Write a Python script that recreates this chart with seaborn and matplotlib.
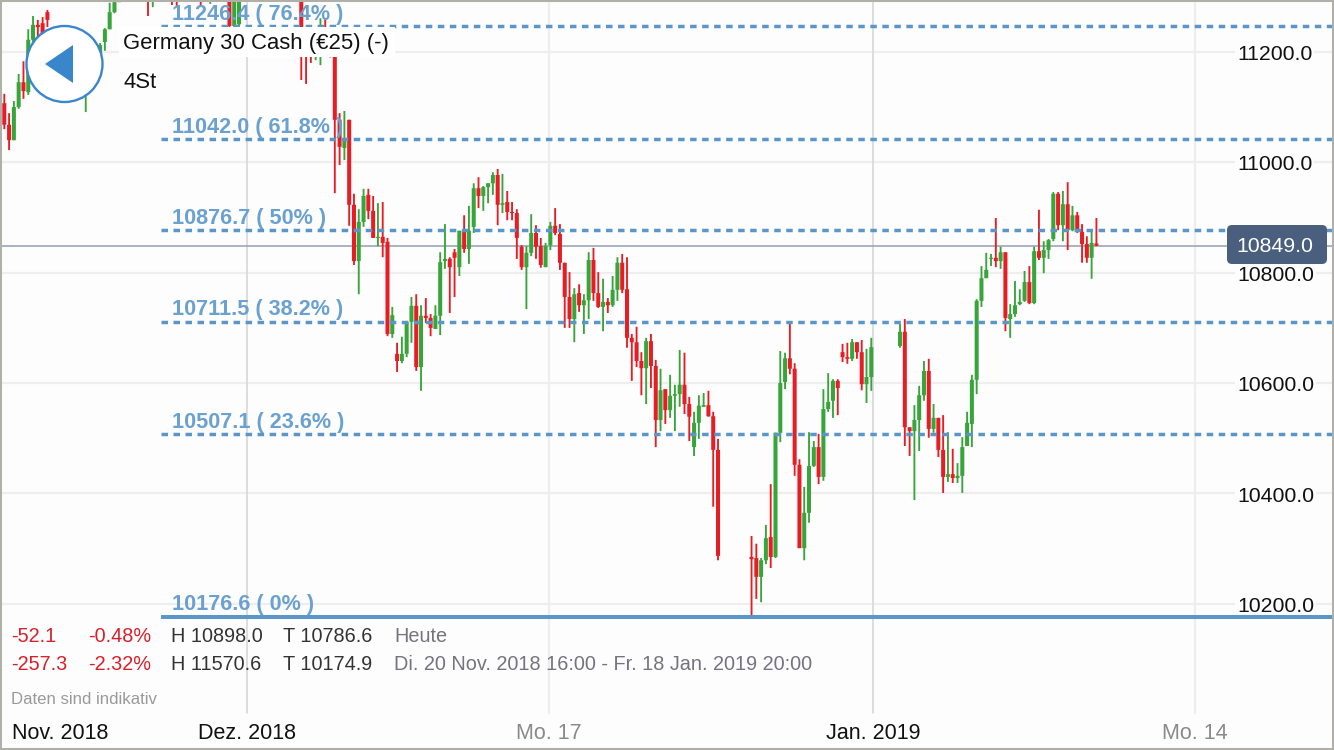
import numpy as np
import pandas as pd
import seaborn as sns
import matplotlib
matplotlib.use("Agg")
import matplotlib.pyplot as plt
from matplotlib.patches import Rectangle, Circle, Polygon, FancyBboxPatch
from matplotlib.transforms import ScaledTranslation

_ = np.nan
opens = [
 11107,11068,11040,11100,11145,11127,11222,11249,11252,11272,
 11222,11194,11212,11185,11158,11185,11158,11131,11167,11171,
 11189,11218,11241,11272,11290,11330,11380,11360,11420,11400,
 11370,11320,11350,11400,11385,11345,11320,11305,11350,11400,
 11370,11340,11310,11315,11345,11420,11500,11420,11247,11250,
 11320,11300,11360,11330,11390,11350,11320,11360,11330,11375,
 11345,11325,11355,11236,11231,11203,11212,11240,11222,11222,
 11077,11026,11077,10923,10821,10892,10941,10912,10863,10865,
 10856,10689,10653,10640,10653,10711,10740,10629,10722,10718,
 10698,10722,10821,10825,10837,10810,10876,10843,10883,10953,
 10939,10955,10962,10977,10923,10928,10910,10908,10847,10810,
 10836,10872,10848,10810,10850,10885,10870,10818,10756,10716,
 10763,10741,10750,10823,10763,10738,10747,10741,10769,10818,
 10770,10682,10674,10640,10627,10676,10631,10533,10589,10551,
 10577,10580,10597,10562,10484,10528,10557,10560,10540,10479,
 _,_,_,_,_,_,10285,10283,10249,10279,
 10321,10285,10510,10602,10645,10626,10452,10301,10365,10450,
 10484,10430,10553,10568,10604,10656,10647,10644,10674,10656,
 10598,10611,_,_,_,_,_,10667,10693,10520,
 10513,10533,10578,10622,10517,10537,10479,10430,10435,10428,
 10432,10486,10526,10606,10749,10790,10825,10827,10821,10837,
 10716,10725,10743,10749,10783,10745,10839,10827,10841,10861,
 10943,10886,10924,10877,10904,10874,10852,10827,10853]
highs = [
 11124,11089,11111,11160,11183,11241,11265,11258,11263,11276,
 11231,11222,11218,11212,11203,11194,11185,11185,11212,11203,
 11216,11243,11289,11312,11350,11395,11410,11430,11445,11425,
 11390,11365,11420,11430,11410,11365,11340,11370,11415,11430,
 11395,11360,11365,11360,11440,11540,11570.6,11440,11350,11345,
 11340,11375,11385,11410,11410,11370,11380,11385,11395,11395,
 11365,11375,11375,11240,11236,11231,11261,11261,11240,11240,
 11089,11093,11077,10943,10915,10952,10952,10939,10926,10928,
 10863,10738,10673,10684,10712,10756,10761,10741,10754,10725,
 10741,10837,10888,10828,10843,10876,10904,10921,10962,10973,
 10957,10962,10982,10988,10979,10948,10928,10915,10850,10848,
 10906,10886,10863,10854,10892,10917,10888,10818,10801,10772,
 10779,10761,10837,10845,10801,10789,10754,10794,10828,10834,
 10828,10689,10702,10656,10682,10689,10642,10626,10589,10615,
 10597,10660,10655,10575,10548,10578,10582,10586,10548,10499,
 _,_,_,_,_,_,10323,10309,10283,10343,
 10417,10510,10658,10655,10707,10636,10462,10412,10511,10495,
 10508,10589,10618,10607,10607,10671,10673,10680,10674,10678,
 10662,10682,_,_,_,_,_,10707,10716,10520,
 10560,10595,10640,10644,10562,10537,10542,10511,10481,10455,
 10502,10548,10615,10752,10812,10836,10834,10899,10847,10837,
 10743,10785,10770,10803,10812,10847,10914,10857,10861,10946,
 10946,10948,10964,10921,10910,10888,10866,10879,10899]
lows = [
 11060,11022,11040,11097,11115,11122,11212,11218,11227,11245,
 11185,11176,11167,11149,11140,11140,11131,11091,11140,11153,
 11185,11202,11241,11270,11295,11320,11340,11350,11385,11330,
 11265,11281,11340,11360,11320,11285,11283,11295,11335,11355,
 11320,11283,11295,11287,11330,11405,11400,11243,11245,11248,
 11292,11295,11315,11320,11335,11300,11305,11310,11320,11325,
 11300,11300,11149,11142,11180,11185,11176,11212,11190,10944,
 10995,11004,10885,10814,10761,10883,10897,10863,10848,10828,
 10685,10682,10620,10636,10647,10673,10622,10586,10709,10685,
 10698,10687,10807,10727,10756,10794,10836,10816,10872,10917,
 10912,10926,10941,10886,10908,10895,10895,10825,10805,10734,
 10830,10825,10809,10810,10841,10868,10805,10700,10700,10674,
 10729,10689,10716,10749,10736,10694,10727,10738,10749,10763,
 10664,10604,10629,10578,10562,10591,10484,10513,10526,10537,
 10513,10557,10544,10495,10468,10499,10557,10539,10376,10279,
 _,_,_,_,_,_,10175,10209,10203,10272,
 10265,10283,10493,10589,10616,10432,10301,10279,10347,10448,
 10417,10423,10548,10537,10542,10638,10635,10640,10644,10587,
 10564,10586,_,_,_,_,_,10664,10486,10468,
 10388,10477,10568,10501,10510,10466,10401,10421,10419,10419,
 10401,10486,10484,10580,10738,10790,10812,10810,10807,10694,
 10682,10720,10741,10747,10743,10743,10823,10799,10825,10857,
 10877,10857,10841,10875,10872,10818,10818,10789,10848]
closes = [
 11068,11040,11100,11145,11129,11222,11249,11245,11234,11258,
 11194,11212,11185,11158,11185,11149,11140,11167,11194,11200,
 11212,11241,11272,11290,11330,11380,11360,11420,11400,11370,
 11320,11350,11400,11385,11345,11320,11305,11350,11400,11370,
 11340,11310,11345,11345,11420,11500,11420,11247,11330,11320,
 11300,11360,11330,11390,11350,11320,11360,11330,11375,11345,
 11325,11355,11222,11212,11212,11222,11240,11222,11203,11077,
 11028,11044,10923,10821,10892,10939,10912,10863,10865,10854,
 10689,10723,10640,10653,10711,10740,10629,10722,10718,10700,
 10722,10819,10825,10810,10827,10876,10843,10876,10953,10939,
 10955,10962,10977,10923,10926,10910,10908,10863,10810,10836,
 10872,10847,10814,10848,10885,10872,10818,10756,10716,10761,
 10741,10750,10823,10763,10738,10747,10741,10769,10818,10769,
 10682,10674,10640,10627,10676,10631,10533,10587,10551,10577,
 10580,10597,10562,10539,10528,10559,10560,10540,10479,10287,
 _,_,_,_,_,_,10281,10249,10279,10319,
 10285,10510,10600,10645,10626,10452,10301,10365,10450,10484,
 10430,10553,10566,10604,10591,10647,10644,10674,10656,10598,
 10611,10665,_,_,_,_,_,10693,10520,10513,
 10533,10578,10622,10517,10537,10479,10430,10435,10428,10432,
 10484,10528,10606,10749,10790,10805,10827,10821,10837,10718,
 10725,10741,10747,10783,10745,10839,10827,10841,10859,10943,
 10886,10924,10877,10904,10875,10852,10827,10854,10849]

fib_levels = [11246.4, 11042.0, 10876.7, 10711.5, 10507.1, 10176.6]
fib_labels = ["11246.4 ( 76.4% )", "11042.0 ( 61.8% )", "10876.7 ( 50% )",
              "10711.5 ( 38.2% )", "10507.1 ( 23.6% )", "10176.6 ( 0% )"]
last_price = 10849.0
y_ticks = [10200, 10400, 10600, 10800, 11000, 11200]
x_tick_labels = ["Nov. 2018", "Dez. 2018", "Mo. 17", "Jan. 2019", "Mo. 14"]
x_tick_pos = [11.6, 50.7, 113.7, 181.4, 248.6]
x_tick_colors = ["#111111", "#111111", "#8a8a8a", "#111111", "#8a8a8a"]

sns.set_theme(style="white")
plt.rcParams["font.family"] = ["Liberation Sans", "DejaVu Sans"]

W, H = 1334, 750
BG = "#fdfdfd"
fig = plt.figure(figsize=(W / 100, H / 100), dpi=100, facecolor=BG)
ax = fig.add_axes([0, 0, 1, 1], facecolor=BG)
ax.set_axisbelow(False)

o, hi, lo, c = map(lambda a: np.array(a, float), (opens, highs, lows, closes))
idx = np.arange(len(o))
direction = np.where(c < o, "down", "up")
frame = pd.DataFrame(dict(i=idx, o=o, h=hi, l=lo, c=c, d=direction)).dropna()
wicks = frame.melt(id_vars=["i", "d"], value_vars=["h", "l"], value_name="price")
bodies = frame.melt(id_vars=["i", "d"], value_vars=["o", "c"], value_name="price")
palette = {"down": "#e71d25", "up": "#38a53a"}

# grid
for t in y_ticks:
    ax.axhline(t, color="#eeeeee", lw=1.6, zorder=1)
grid_bottom = (H - 713) / H
ax.axvline(x_tick_pos[1], ymin=grid_bottom, color="#d6d6dc", lw=1.2, zorder=1)
ax.axvline(x_tick_pos[3], ymin=grid_bottom, color="#d6d6dc", lw=1.2, zorder=1)
ax.axvline(x_tick_pos[2], ymin=grid_bottom, color="#eeeeee", lw=1.6, zorder=1)
ax.axvline(x_tick_pos[4], ymin=grid_bottom, color="#eeeeee", lw=1.6, zorder=1)
ax.axhline(last_price, color="#9ba6b8", lw=1.2, zorder=2)

sns.lineplot(data=wicks, x="i", y="price", hue="d", units="i", estimator=None,
             palette=palette, lw=1.35, legend=False, ax=ax, zorder=3,
             solid_capstyle="butt", snap=False)
sns.lineplot(data=bodies, x="i", y="price", hue="d", units="i", estimator=None,
             palette=palette, lw=2.9, legend=False, ax=ax, zorder=4,
             solid_capstyle="butt", snap=False)

ax.set_xlim(-4.3 / 4.79, (W - 4.3) / 4.79)
ax.set_ylim(9935.3, 11294.0)
ax.set_xlabel("")
ax.set_ylabel("")
for s in ax.spines.values():
    s.set_visible(False)

# fibonacci lines and labels
fib_color = "#5b96c9"
fib_start = 32.7
for lev, lab in zip(fib_levels, fib_labels):
    if lev == fib_levels[-1]:
        ax.plot([fib_start, ax.get_xlim()[1]], [lev, lev], color=fib_color,
                lw=2.9, solid_capstyle="butt", zorder=5)
    else:
        ax.plot([fib_start, ax.get_xlim()[1]], [lev, lev], color=fib_color, lw=2.5,
                linestyle=(0, (1.87, 1.59)), dash_capstyle="butt", zorder=5)
    ax.annotate(lab, xy=(35.0, lev), xytext=(0, 12), textcoords="offset pixels",
                ha="left", va="center", color="#6aa1d0", fontsize=15.6,
                fontweight="bold", zorder=6)

# axis ticks
ax.yaxis.tick_right()
ax.set_yticks(y_ticks)
ax.set_yticklabels([f"{t:.1f}" for t in y_ticks])
ax.tick_params(axis="y", length=0, pad=-(W - 1237) * 0.72, labelsize=15.3,
               labelcolor="#111111")
for lab in ax.get_yticklabels():
    lab.set_transform(lab.get_transform() + ScaledTranslation(0, -0.5 / 72, fig.dpi_scale_trans))
    lab.set_bbox(dict(fc=BG, ec="none", pad=1.5))
ax.set_xticks(x_tick_pos)
ax.set_xticklabels(x_tick_labels)
ax.tick_params(axis="x", length=0, pad=-(H - 723) * 0.72, labelsize=15.5)
for lab, col in zip(ax.get_xticklabels(), x_tick_colors):
    lab.set_color(col)

# overlay in pixel space
ov = fig.add_axes([0, 0, 1, 1], facecolor="none", zorder=10)
ov.set_xlim(0, W)
ov.set_ylim(H, 0)
ov.axis("off")

ov.add_patch(Rectangle((119, 27), 276, 30, fc="white", ec="none", zorder=1))
ov.text(123, 43, "Germany 30 Cash (€25) (-)", fontsize=15.95, color="#111111",
        ha="left", va="center", zorder=2)
ov.text(123, 82, "4St", fontsize=15.95, color="#111111", ha="left", va="center", zorder=2)

blue = "#3a86cc"
ov.add_patch(Circle((64.5, 64), 38, fc="white", ec=blue, lw=1.7, zorder=3))
ov.add_patch(Polygon([(45, 64), (73, 45), (73, 83)], closed=True, fc=blue, ec="none", zorder=4))

ov.add_patch(FancyBboxPatch((1231, 229), 92, 31, boxstyle="round,pad=4,rounding_size=5",
                            fc="#4a5f7e", ec="none", zorder=3))
ov.text(1275, 246, f"{last_price:.1f}", color="white", fontsize=15.3, ha="center",
        va="center", zorder=4)

red = "#d8202a"
dark = "#333333"
grey = "#74747f"
fs = 14.3
rows = [(637, "-52.1", "-0.48%", "H 10898.0", "T 10786.6", "Heute"),
        (665, "-257.3", "-2.32%", "H 11570.6", "T 10174.9",
         "Di. 20 Nov. 2018 16:00 - Fr. 18 Jan. 2019 20:00")]
for y, a, b, h_, t_, d_ in rows:
    ov.text(11, y, a, color=red, fontsize=fs, va="center")
    ov.text(88, y, b, color=red, fontsize=fs, va="center")
    ov.text(171, y, h_, color=dark, fontsize=fs, va="center")
    ov.text(283, y, t_, color=dark, fontsize=fs, va="center")
    ov.text(394, y, d_, color=grey, fontsize=fs, va="center")
ov.text(11, 699.5, "Daten sind indikativ", color="#9a9a9a", fontsize=12.1, va="center")

ov.add_patch(Rectangle((0, 0), W, H, fc="none", ec="#b1b0a8", lw=2.9, zorder=9, clip_on=True))

fig.savefig("out.png", dpi=100, facecolor=fig.get_facecolor())
